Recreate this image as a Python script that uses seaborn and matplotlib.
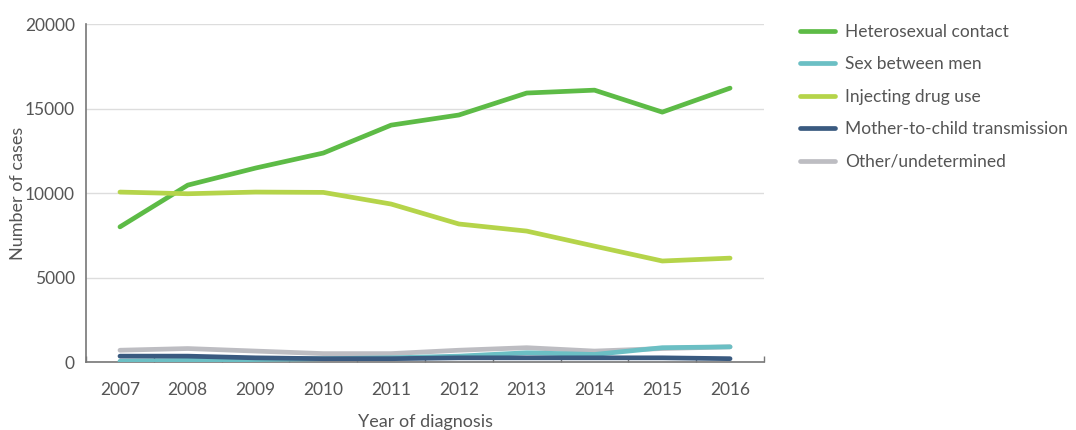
import matplotlib
matplotlib.use("Agg")
import matplotlib.pyplot as plt
from matplotlib.ticker import MultipleLocator
import pandas as pd
import seaborn as sns

years = [2007, 2008, 2009, 2010, 2011, 2012, 2013, 2014, 2015, 2016]
heterosexual = [8000, 10470, 11480, 12370, 14020, 14620, 15920, 16090, 14790, 16210]
sex_men = [50, 100, 150, 200, 250, 350, 550, 450, 850, 900]
injecting = [10060, 9960, 10060, 10040, 9350, 8170, 7750, 6860, 5980, 6150]
mother_child = [350, 350, 250, 200, 200, 250, 250, 250, 250, 200]
other = [700, 800, 650, 500, 500, 700, 850, 650, 800, 900]

labels = ["Heterosexual contact", "Sex between men", "Injecting drug use",
          "Mother-to-child transmission", "Other/undetermined"]
colors = ["#5dbb46", "#6bbfc4", "#b5d44a", "#3a5a80", "#bdbdc2"]

series = [heterosexual, sex_men, injecting, mother_child, other]
df = pd.DataFrame({
    "year": years * len(labels),
    "cases": [v for s in series for v in s],
    "route": [lab for lab in labels for _ in years],
})

sns.set_theme(style="white")
plt.rcParams["font.family"] = ["Lato", "DejaVu Sans"]
text_col = "#555555"

fig = plt.figure(figsize=(10.76, 4.3), dpi=100)
ax = fig.add_axes([0.080, 0.158, 0.630, 0.786])

# grey drawn first so the other routes sit on top
order = [4, 0, 2, 1, 3]
for i in order:
    sns.lineplot(data=df[df["route"] == labels[i]], x="year", y="cases",
                 color=colors[i], lw=3.4, solid_capstyle="round", ax=ax,
                 label=labels[i], zorder=3)

handles, labs = ax.get_legend_handles_labels()
hmap = dict(zip(labs, handles))
ax.get_legend().remove()

ax.set_xlim(2006.5, 2016.5)
ax.set_ylim(0, 20000)
ax.set_xticks(years)
ax.set_xticklabels([str(y) for y in years])
ax.xaxis.set_minor_locator(MultipleLocator(1, offset=0.5))
ax.set_yticks([0, 5000, 10000, 15000, 20000])
ax.yaxis.grid(True, color="#dddddd", lw=1)
ax.set_axisbelow(True)

for s in ["top", "right"]:
    ax.spines[s].set_visible(False)
for s in ["left", "bottom"]:
    ax.spines[s].set_color("#777777")
    ax.spines[s].set_linewidth(1.2)

ax.tick_params(axis="both", which="major", length=0, labelsize=12.5,
               labelcolor=text_col)
ax.tick_params(axis="x", which="major", pad=14)
ax.tick_params(axis="x", which="minor", bottom=True, direction="in",
               length=4, color="#777777", width=1)
ax.tick_params(axis="y", pad=8)

ax.set_xlabel("Year of diagnosis", fontsize=13, color=text_col, labelpad=12)
ax.set_ylabel("Number of cases", fontsize=13, color=text_col)
ax.yaxis.set_label_coords(-0.088, 0.5)

fig.legend([hmap[l] for l in labels], labels, loc="upper left",
           bbox_to_anchor=(800 / 1076, 1 - 24 / 430), frameon=False,
           fontsize=12.5, labelcolor=text_col, handlelength=2.0,
           handletextpad=0.6, labelspacing=0.95, borderpad=0,
           borderaxespad=0)

fig.savefig("out.png", dpi=100)
